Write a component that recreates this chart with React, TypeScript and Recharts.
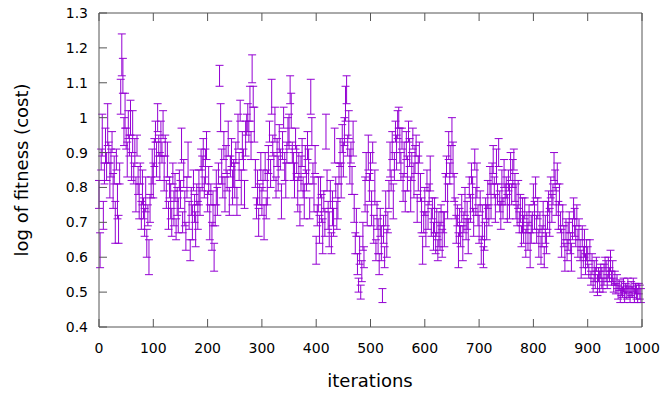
import React from 'react';
import { ComposedChart, Scatter, ErrorBar, XAxis, YAxis } from 'recharts';

// mean log-fitness, one value every 2 iterations (0 .. 998), 25 per row = 50 iterations
const fitness = [
  0.78, 0.62, 0.88, 0.95, 0.72, 0.84, 0.92, 0.86, 0.98, 0.90, 0.82, 0.87, 0.93, 0.79, 0.85, 0.70, 0.88, 0.76, 0.68, 0.84, 1.06, 1.18, 1.12, 0.96, 1.02,
  0.94, 0.88, 0.98, 0.92, 1.00, 0.86, 0.96, 0.84, 0.90, 0.78, 0.92, 0.82, 0.76, 0.84, 0.72, 0.80, 0.74, 0.70, 0.78, 0.64, 0.72, 0.60, 0.74, 0.80, 0.86,
  0.82, 0.90, 0.96, 0.88, 1.00, 0.92, 0.86, 0.94, 0.90, 0.98, 0.84, 0.92, 0.78, 0.88, 0.72, 0.80, 0.76, 0.70, 0.84, 0.74, 0.80, 0.68, 0.76, 0.72, 0.82,
  0.78, 0.92, 0.70, 0.84, 0.74, 0.66, 0.80, 0.88, 0.72, 0.62, 0.76, 0.70, 0.82, 0.74, 0.68, 0.78, 0.72, 0.80, 0.76, 0.88, 0.84, 0.90, 0.80, 0.86, 0.92,
  0.76, 0.82, 0.70, 0.78, 0.66, 0.74, 0.60, 0.72, 0.80, 0.76, 0.84, 1.12, 1.00, 0.86, 0.80, 0.92, 0.78, 0.88, 0.82, 0.94, 0.76, 0.86, 0.90, 0.80, 0.84,
  0.82, 0.90, 0.76, 0.96, 0.86, 1.02, 0.80, 0.92, 0.88, 0.78, 0.94, 0.98, 1.00, 0.96, 1.04, 0.92, 1.14, 1.06, 0.98, 0.84, 0.74, 0.80, 0.70, 0.78, 0.86,
  0.76, 0.82, 0.70, 0.86, 0.74, 0.80, 0.88, 0.96, 0.84, 1.06, 0.92, 0.86, 0.98, 0.80, 0.90, 0.84, 0.94, 0.88, 0.76, 0.92, 1.00, 0.86, 0.82, 0.90, 0.96,
  0.96, 1.08, 1.02, 0.90, 0.86, 0.82, 0.94, 0.88, 0.78, 0.86, 0.72, 0.84, 0.90, 0.80, 0.76, 0.88, 0.82, 0.92, 0.86, 0.74, 1.06, 0.96, 0.84, 0.78, 0.88,
  0.62, 0.72, 0.78, 0.68, 0.80, 0.74, 0.66, 0.76, 0.70, 0.96, 0.82, 0.72, 0.68, 0.78, 0.64, 0.74, 0.70, 0.92, 0.80, 0.72, 0.76, 0.84, 0.90, 0.82, 0.94,
  0.88, 0.96, 1.04, 1.08, 0.92, 0.98, 0.86, 0.90, 0.82, 0.94, 0.74, 0.64, 0.70, 0.58, 0.52, 0.62, 0.50, 0.56, 0.66, 0.60, 0.78, 0.86, 0.72, 0.90, 0.80,
  0.86, 0.74, 0.90, 0.68, 0.80, 0.62, 0.72, 0.66, 0.58, 0.70, 0.64, 0.49, 0.68, 0.60, 0.74, 0.64, 0.70, 0.78, 0.88, 0.82, 0.92, 0.76, 0.86, 0.96, 0.90,
  0.98, 1.00, 0.92, 0.86, 0.94, 0.80, 0.88, 0.76, 0.92, 0.84, 0.96, 0.90, 0.78, 0.86, 0.94, 0.82, 0.88, 0.92, 0.74, 0.84, 0.90, 0.80, 0.72, 0.62, 0.70,
  0.76, 0.68, 0.82, 0.72, 0.78, 0.84, 0.70, 0.74, 0.66, 0.72, 0.64, 0.70, 0.62, 0.68, 0.66, 0.72, 0.64, 0.70, 0.68, 0.80, 0.86, 0.76, 0.92, 0.84, 0.88,
  0.96, 0.88, 0.80, 0.74, 0.68, 0.72, 0.62, 0.70, 0.66, 0.74, 0.64, 0.70, 0.76, 0.68, 0.72, 0.66, 0.80, 0.74, 0.84, 0.78, 0.70, 0.88, 0.76, 0.82, 0.72,
  0.68, 0.76, 0.62, 0.70, 0.60, 0.66, 0.74, 0.70, 0.78, 0.72, 0.82, 0.76, 0.84, 0.88, 0.80, 0.74, 0.86, 0.78, 0.90, 0.76, 0.72, 0.80, 0.74, 0.84, 0.78,
  0.80, 0.74, 0.82, 0.76, 0.86, 0.78, 0.84, 0.88, 0.80, 0.76, 0.72, 0.78, 0.70, 0.74, 0.66, 0.72, 0.68, 0.74, 0.64, 0.70, 0.66, 0.72, 0.62, 0.68, 0.70,
  0.78, 0.72, 0.80, 0.68, 0.74, 0.64, 0.70, 0.62, 0.66, 0.72, 0.60, 0.68, 0.64, 0.72, 0.76, 0.70, 0.80, 0.74, 0.78, 0.86, 0.82, 0.76, 0.84, 0.72, 0.78,
  0.70, 0.64, 0.72, 0.66, 0.60, 0.68, 0.62, 0.66, 0.70, 0.64, 0.60, 0.68, 0.74, 0.70, 0.66, 0.72, 0.64, 0.68, 0.62, 0.58, 0.66, 0.60, 0.64, 0.58, 0.62,
  0.60, 0.56, 0.62, 0.54, 0.58, 0.52, 0.56, 0.54, 0.58, 0.52, 0.55, 0.53, 0.56, 0.54, 0.52, 0.55, 0.58, 0.56, 0.53, 0.57, 0.55, 0.59, 0.54, 0.56, 0.52,
  0.54, 0.51, 0.53, 0.50, 0.52, 0.49, 0.51, 0.50, 0.52, 0.49, 0.51, 0.50, 0.52, 0.50, 0.49, 0.51, 0.50, 0.52, 0.49, 0.51, 0.50, 0.49, 0.51, 0.50, 0.49,
];

// half-width of each error bar
const spread = [
  0.04, 0.05, 0.03, 0.06, 0.04, 0.03, 0.05, 0.04, 0.06, 0.03, 0.05, 0.04, 0.03, 0.05, 0.04, 0.06, 0.03, 0.05, 0.04, 0.03, 0.05, 0.06, 0.05, 0.04, 0.05,
  0.03, 0.05, 0.04, 0.03, 0.05, 0.04, 0.06, 0.03, 0.04, 0.05, 0.03, 0.04, 0.05, 0.03, 0.04, 0.05, 0.03, 0.04, 0.05, 0.04, 0.03, 0.05, 0.04, 0.03, 0.05,
  0.05, 0.04, 0.03, 0.05, 0.04, 0.03, 0.04, 0.05, 0.03, 0.04, 0.05, 0.03, 0.04, 0.05, 0.04, 0.03, 0.05, 0.04, 0.03, 0.05, 0.04, 0.03, 0.04, 0.05, 0.03,
  0.04, 0.05, 0.03, 0.04, 0.05, 0.04, 0.03, 0.05, 0.04, 0.03, 0.04, 0.05, 0.03, 0.04, 0.05, 0.03, 0.04, 0.05, 0.04, 0.03, 0.05, 0.04, 0.03, 0.05, 0.04,
  0.03, 0.04, 0.05, 0.03, 0.04, 0.05, 0.04, 0.03, 0.05, 0.04, 0.03, 0.03, 0.04, 0.05, 0.03, 0.04, 0.05, 0.04, 0.03, 0.05, 0.04, 0.03, 0.04, 0.05, 0.04,
  0.05, 0.03, 0.04, 0.05, 0.04, 0.03, 0.05, 0.04, 0.03, 0.04, 0.05, 0.03, 0.04, 0.03, 0.05, 0.04, 0.04, 0.03, 0.05, 0.04, 0.03, 0.05, 0.04, 0.03, 0.04,
  0.04, 0.03, 0.05, 0.04, 0.03, 0.05, 0.04, 0.03, 0.04, 0.05, 0.03, 0.04, 0.05, 0.03, 0.04, 0.05, 0.04, 0.03, 0.05, 0.04, 0.03, 0.04, 0.05, 0.03, 0.04,
  0.05, 0.04, 0.05, 0.03, 0.04, 0.05, 0.03, 0.04, 0.05, 0.04, 0.03, 0.05, 0.04, 0.03, 0.05, 0.04, 0.03, 0.04, 0.05, 0.03, 0.05, 0.04, 0.03, 0.05, 0.04,
  0.04, 0.03, 0.05, 0.04, 0.03, 0.04, 0.05, 0.03, 0.04, 0.05, 0.03, 0.04, 0.05, 0.04, 0.03, 0.05, 0.04, 0.05, 0.03, 0.04, 0.05, 0.03, 0.04, 0.05, 0.04,
  0.05, 0.04, 0.05, 0.04, 0.03, 0.04, 0.05, 0.03, 0.04, 0.05, 0.04, 0.03, 0.04, 0.03, 0.02, 0.04, 0.02, 0.03, 0.04, 0.03, 0.05, 0.04, 0.03, 0.05, 0.04,
  0.04, 0.05, 0.03, 0.04, 0.05, 0.03, 0.04, 0.05, 0.03, 0.04, 0.05, 0.02, 0.04, 0.03, 0.05, 0.04, 0.03, 0.04, 0.05, 0.03, 0.04, 0.05, 0.04, 0.03, 0.05,
  0.04, 0.03, 0.05, 0.04, 0.03, 0.04, 0.05, 0.03, 0.04, 0.05, 0.03, 0.04, 0.05, 0.04, 0.03, 0.05, 0.04, 0.03, 0.04, 0.05, 0.03, 0.04, 0.05, 0.04, 0.03,
  0.04, 0.05, 0.03, 0.04, 0.03, 0.05, 0.04, 0.03, 0.04, 0.05, 0.03, 0.04, 0.03, 0.05, 0.04, 0.03, 0.04, 0.03, 0.05, 0.04, 0.03, 0.05, 0.04, 0.03, 0.04,
  0.04, 0.05, 0.04, 0.03, 0.04, 0.03, 0.05, 0.04, 0.03, 0.04, 0.05, 0.03, 0.04, 0.03, 0.04, 0.05, 0.03, 0.04, 0.03, 0.05, 0.04, 0.03, 0.04, 0.05, 0.03,
  0.04, 0.03, 0.04, 0.05, 0.03, 0.04, 0.03, 0.05, 0.04, 0.03, 0.04, 0.05, 0.03, 0.04, 0.03, 0.04, 0.05, 0.03, 0.04, 0.03, 0.04, 0.05, 0.03, 0.04, 0.03,
  0.03, 0.04, 0.03, 0.05, 0.04, 0.03, 0.04, 0.03, 0.04, 0.05, 0.03, 0.04, 0.03, 0.04, 0.03, 0.05, 0.04, 0.03, 0.04, 0.03, 0.04, 0.03, 0.05, 0.04, 0.03,
  0.03, 0.04, 0.03, 0.04, 0.03, 0.04, 0.03, 0.04, 0.03, 0.04, 0.03, 0.04, 0.03, 0.04, 0.03, 0.04, 0.03, 0.04, 0.03, 0.04, 0.03, 0.04, 0.03, 0.04, 0.03,
  0.03, 0.04, 0.03, 0.03, 0.04, 0.03, 0.03, 0.04, 0.03, 0.03, 0.04, 0.03, 0.03, 0.04, 0.03, 0.03, 0.04, 0.03, 0.03, 0.04, 0.03, 0.03, 0.04, 0.03, 0.03,
  0.03, 0.02, 0.03, 0.02, 0.03, 0.02, 0.03, 0.03, 0.02, 0.03, 0.02, 0.03, 0.02, 0.03, 0.02, 0.03, 0.02, 0.03, 0.02, 0.03, 0.02, 0.03, 0.02, 0.03, 0.02,
  0.02, 0.015, 0.02, 0.02, 0.015, 0.02, 0.02, 0.015, 0.02, 0.02, 0.015, 0.02, 0.02, 0.015, 0.02, 0.02, 0.015, 0.02, 0.02, 0.015, 0.02, 0.02, 0.015, 0.02, 0.02,
];

const xTicks = [0, 100, 200, 300, 400, 500, 600, 700, 800, 900, 1000];
const yTicks = [0.4, 0.5, 0.6, 0.7, 0.8, 0.9, 1, 1.1, 1.2, 1.3];

const STEP = 2;
const data = fitness.map((v, i) => ({ iter: i * STEP, value: v, err: spread[i] }));

const PURPLE = '#9400D3';
const BORDER = '#555';
const FONT = '"DejaVu Sans", sans-serif';
const TICK = 8;

const BottomTick = (props: any) => {
  const { x, y, payload } = props;
  return (
    <g>
      <line x1={x} x2={x} y1={y} y2={y - TICK} stroke={BORDER} />
      <text x={x} y={y + 26} textAnchor="middle" fontSize={14} fontFamily={FONT} fill="#000">
        {payload.value}
      </text>
    </g>
  );
};
const TopTick = (props: any) => {
  const { x, y } = props;
  return <line x1={x} x2={x} y1={y} y2={y + TICK} stroke={BORDER} />;
};
const LeftTick = (props: any) => {
  const { x, y, payload } = props;
  return (
    <g>
      <line x1={x} x2={x + TICK} y1={y} y2={y} stroke={BORDER} />
      <text x={x - 11} y={y + 5} textAnchor="end" fontSize={14} fontFamily={FONT} fill="#000">
        {payload.value}
      </text>
    </g>
  );
};
const RightTick = (props: any) => {
  const { x, y } = props;
  return <line x1={x} x2={x - TICK} y1={y} y2={y} stroke={BORDER} />;
};

const App = () => {
  return (
    <div style={{ position: 'absolute', left: 0, top: 0 }}>
      <ComposedChart width={663} height={393} data={data} margin={{ top: 0, right: 0, bottom: 0, left: 0 }}>
        <XAxis
          xAxisId="b" dataKey="iter" type="number" domain={[0, 1000]} ticks={xTicks}
          height={66} tickSize={0} tickMargin={0} tick={<BottomTick />}
          axisLine={{ stroke: BORDER }}
          label={{
            content: () => (
              <text x={370} y={387} textAnchor="middle" fontSize={18} fontFamily={FONT} fill="#000">iterations</text>
            ),
          }}
        />
        <XAxis
          xAxisId="t" orientation="top" dataKey="iter" type="number" domain={[0, 1000]} ticks={xTicks}
          height={13} tickSize={0} tickMargin={0} tick={<TopTick />} axisLine={{ stroke: BORDER }}
        />
        <YAxis
          yAxisId="l" type="number" domain={[0.4, 1.3]} ticks={yTicks}
          width={99} tickSize={0} tickMargin={0} tick={<LeftTick />} axisLine={{ stroke: BORDER }}
          label={{
            content: () => (
              <text x={21} y={170} transform="rotate(-90 21 170)" textAnchor="middle" dominantBaseline="central"
                fontSize={18} fontFamily={FONT} fill="#000">log of fitness (cost)</text>
            ),
          }}
        />
        <YAxis
          yAxisId="r" orientation="right" type="number" domain={[0.4, 1.3]} ticks={yTicks}
          width={21} tickSize={0} tickMargin={0} tick={<RightTick />} axisLine={{ stroke: BORDER }}
        />
        <Scatter
          xAxisId="b" yAxisId="l" dataKey="value" isAnimationActive={false}
          shape={() => <g />}
        >
          <ErrorBar dataKey="err" direction="y" width={4} stroke={PURPLE} strokeWidth={1} isAnimationActive={false} />
        </Scatter>
      </ComposedChart>
    </div>
  );
};

export default App;
